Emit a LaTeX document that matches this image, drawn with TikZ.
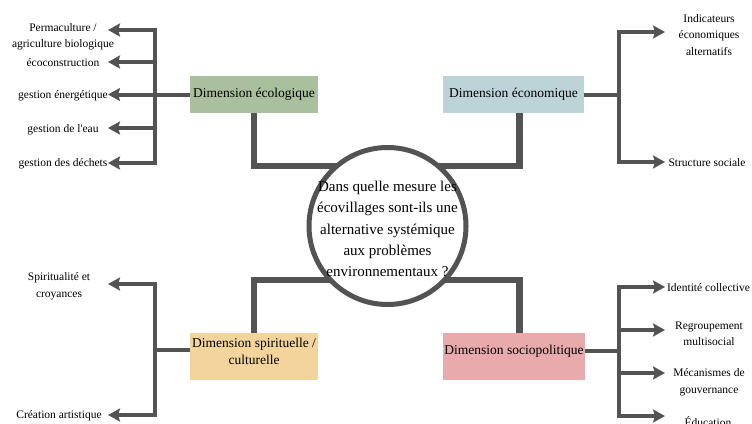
\documentclass[tikz,border=0pt]{standalone}
\usepackage{fontspec}
\setmainfont{Liberation Serif}
\usetikzlibrary{arrows.meta,backgrounds}
\definecolor{ln}{HTML}{535353}
\definecolor{cgreen}{HTML}{AABF9D}
\definecolor{cblue}{HTML}{BCD3D7}
\definecolor{cyellow}{HTML}{F2D49C}
\definecolor{cpink}{HTML}{E8AAAA}
\begin{document}
\begin{tikzpicture}[x=1pt,y=-1pt,
  dimbox/.style={draw=none, inner sep=0pt, font=\fontsize{13.5}{17}\selectfont},
  dimtext/.style={align=center, inner sep=0pt, font=\fontsize{13.5}{17}\selectfont},
  leaf/.style={align=center, inner sep=0pt, font=\fontsize{11.5}{16.5}\selectfont},
  branch/.style={draw=ln, line width=4pt},
  arr/.style={branch, -{Stealth[length=12pt,width=13pt,inset=2pt]}},
  trunk/.style={draw=ln, line width=6.5pt},
  qtext/.style={align=center, inner sep=0pt, font=\fontsize{15}{21.25}\selectfont}
]
\useasboundingbox (0,0) rectangle (752,423);

% central question
\node[circle, draw=ln, line width=5pt, fill=white, minimum size=157pt, inner sep=0pt] (q) at (387.5,226) {};
\node[qtext] (qt) at (387.5,229) {Dans quelle mesure les\\écovillages sont-ils une\\alternative systémique\\aux problèmes\\environnementaux ?};

% dimension boxes
\node[dimbox, fill=cgreen, minimum width=128pt, minimum height=37pt] (eco) at (254,94.5) {Dimension écologique};
\node[dimbox, fill=cblue, minimum width=141pt, minimum height=37pt] (econ) at (513.5,94.5) {Dimension économique};
\node[dimbox, fill=cyellow, minimum width=128pt, minimum height=47pt] (spir) at (254,356.5) {};
\node[dimtext] (spirt) at (254,351.5) {Dimension spirituelle /\\culturelle};
\node[dimbox, fill=cpink, minimum width=142pt, minimum height=47pt] (socio) at (514,356.5) {};
\node[dimtext] (sociot) at (514,351.5) {Dimension sociopolitique};

% trunks to the circle
\coordinate (qa) at (387.5,166);
\coordinate (qb) at (387.5,280);
\begin{pgfonlayer}{background}
\draw[trunk] (eco.south) |- (qa);
\draw[trunk] ([xshift=6pt]econ.south) |- (qa);
\draw[trunk] (spir.north) |- (qb);
\draw[trunk] ([xshift=5.5pt]socio.north) |- (qb);
\end{pgfonlayer}

% ecological leaves
\node[leaf] (e1) at (63,37) {Permaculture /\\agriculture biologique};
\node[leaf] (e2) at (63,63) {écoconstruction};
\node[leaf] (e3) at (63,96) {gestion énergétique};
\node[leaf] (e4) at (63,130) {gestion de l\textquotesingle eau};
\node[leaf] (e5) at (63,164) {gestion des déchets};
\coordinate (ej) at (155,94.5);
\coordinate (et1) at (108,30);
\coordinate (et2) at (108,62);
\coordinate (et3) at (108,94.5);
\coordinate (et4) at (108,128);
\coordinate (et5) at (108,163);
\draw[branch] (eco.west) -- (ej);
\foreach \t in {et1,et2,et3,et4,et5} \draw[arr] (ej) |- (\t);

% economic leaves
\node[leaf] (c1) at (709,35) {Indicateurs\\économiques\\alternatifs};
\node[leaf] (c2) at (707,163) {Structure sociale};
\coordinate (cj) at (619,94.5);
\coordinate (ct1) at (665,32);
\coordinate (ct2) at (665,162);
\draw[branch] (econ.east) -- (cj);
\foreach \t in {ct1,ct2} \draw[arr] (cj) |- (\t);

% spiritual leaves
\node[leaf] (p1) at (59,286) {Spiritualité et\\croyances};
\node[leaf] (p2) at (59,416) {Création artistique};
\coordinate (pj) at (155,350);
\coordinate (pt1) at (108,284);
\coordinate (pt2) at (108,415);
\draw[branch] (spir.west |- pj) -- (pj);
\foreach \t in {pt1,pt2} \draw[arr] (pj) |- (\t);

% sociopolitical leaves
\node[leaf] (s1) at (708.5,288) {Identité collective};
\node[leaf] (s2) at (709,334) {Regroupement\\multisocial};
\node[leaf] (s3) at (709,382) {Mécanismes de\\gouvernance};
\node[leaf, anchor=base] (s4) at (708,426) {Éducation};
\coordinate (sj) at (619,351);
\coordinate (st1) at (665,287);
\coordinate (st2) at (665,330);
\coordinate (st3) at (665,373);
\coordinate (st4) at (665,416);
\draw[branch] (socio.east |- sj) -- (sj);
\foreach \t in {st1,st2,st3,st4} \draw[arr] (sj) |- (\t);
\end{tikzpicture}
\end{document}
